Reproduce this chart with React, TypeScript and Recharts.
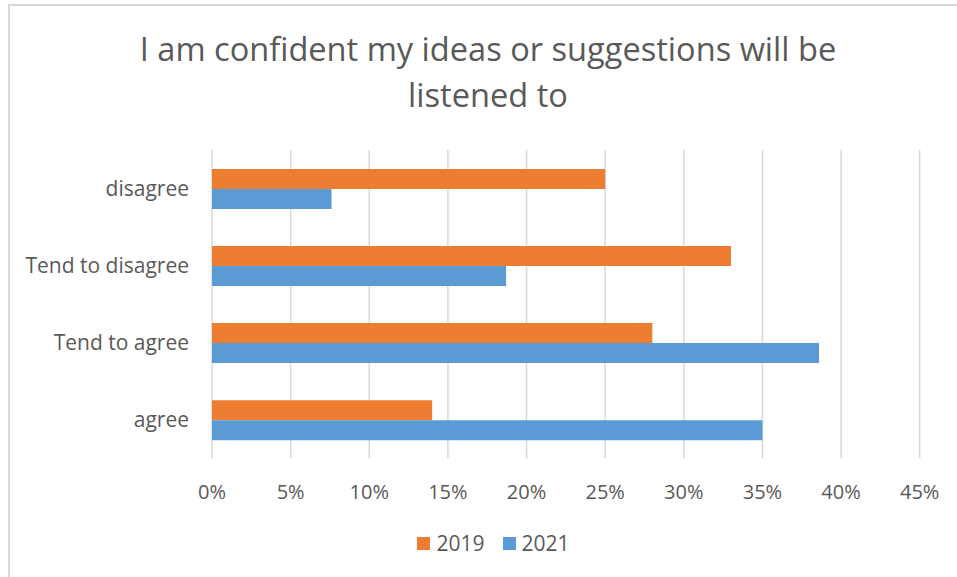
import React from "react";
import { BarChart, Bar, XAxis, YAxis, CartesianGrid, Legend } from "recharts";

const categories = ["disagree", "Tend to disagree", "Tend to agree", "agree"];
const values2019 = [0.25, 0.33, 0.28, 0.14];
const values2021 = [0.076, 0.187, 0.386, 0.35];
const xTicks = [0, 0.05, 0.1, 0.15, 0.2, 0.25, 0.3, 0.35, 0.4, 0.45];
const seriesNames = ["2019", "2021"];
const seriesColors = ["#ED7D31", "#5B9BD5"];

const data = categories.map((name, i) => ({
  name,
  y2019: values2019[i],
  y2021: values2021[i],
}));

const FONT = "'Open Sans', 'Noto Sans', sans-serif";
const TEXT = "#595959";

const LegendContent = () => (
  <div
    style={{
      width: 957,
      display: "flex",
      justifyContent: "center",
      alignItems: "center",
      fontFamily: FONT,
      fontSize: 21,
      color: TEXT,
      lineHeight: "26px",
      paddingLeft: 30,
      boxSizing: "border-box",
    }}
  >
    {seriesNames.map((n, i) => (
      <span
        key={n}
        style={{ display: "flex", alignItems: "center", marginRight: i === 0 ? 18 : 0 }}
      >
        <span
          style={{
            display: "inline-block",
            width: 13,
            height: 13,
            background: seriesColors[i],
            marginRight: 6,
          }}
        />
        <span>{n}</span>
      </span>
    ))}
  </div>
);

export default function App() {
  return (
    <div style={{ position: "relative", width: 957, height: 577, background: "#fff", overflow: "hidden" }}>
      <style>{"body{margin:0;overflow:hidden;background:#fff}"}</style>
      <div
        style={{
          position: "absolute",
          left: 8,
          top: 4,
          width: 1000,
          height: 700,
          border: "2px solid #d9d9d9",
          boxSizing: "border-box",
        }}
      />
      <div
        style={{
          position: "absolute",
          left: 9,
          top: 26,
          width: 958,
          textAlign: "center",
          fontFamily: FONT,
          fontSize: 32.6,
          lineHeight: "46px",
          color: TEXT,
        }}
      >
        I am confident my ideas or suggestions will be
        <br />
        listened to
      </div>
      <div style={{ position: "absolute", left: 0, top: 0 }}>
        <BarChart
          width={957}
          height={577}
          data={data}
          layout="vertical"
          margin={{ top: 150, right: 37.3, bottom: 62.7, left: 0 }}
          barCategoryGap="24.6%"
          barGap={0}
        >
          <CartesianGrid horizontal={false} stroke="#d9d9d9" strokeWidth={1.5} />
          <XAxis
            type="number"
            domain={[0, 0.45]}
            ticks={xTicks}
            tickFormatter={(v: number) => `${Math.round(v * 100)}%`}
            axisLine={false}
            tickLine={false}
            tickMargin={20}
            height={30}
            interval={0}
            tick={{ fill: TEXT, fontSize: 20, fontFamily: FONT }}
          />
          <YAxis
            type="category"
            dataKey="name"
            width={212}
            axisLine={false}
            tickLine={false}
            tickMargin={17}
            interval={0}
            tick={{ fill: TEXT, fontSize: 21, fontFamily: FONT }}
          />
          <Legend
            layout="vertical"
            align="center"
            verticalAlign="bottom"
            content={<LegendContent />}
            wrapperStyle={{ position: "absolute", left: 0, top: 530, bottom: "auto", width: 957, height: 26 }}
          />
          <Bar dataKey="y2019" name="2019" fill={seriesColors[0]} isAnimationActive={false} />
          <Bar dataKey="y2021" name="2021" fill={seriesColors[1]} isAnimationActive={false} />
        </BarChart>
      </div>
    </div>
  );
}
